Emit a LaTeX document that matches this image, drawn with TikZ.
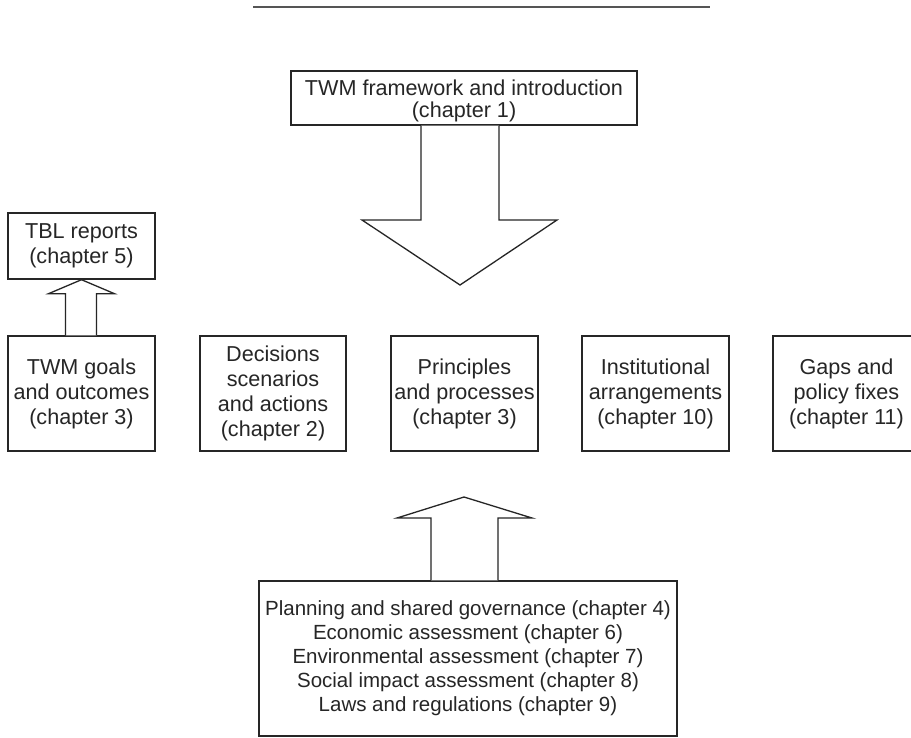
\documentclass[tikz,border=0pt]{standalone}
\usepackage{fontspec}
\setmainfont{Liberation Sans}
\usetikzlibrary{calc}
\definecolor{ink}{HTML}{262626}
\definecolor{rule}{HTML}{555555}
\tikzset{
  box/.style={draw=ink, line width=1.4pt, fill=white, inner sep=0pt,
    text=ink, align=center, font=\fontsize{21.6}{25}\selectfont},
  boxtext/.style={inner sep=0pt, text=ink, align=center,
    font=\fontsize{21.6}{22}\selectfont},
  blockarrow/.style={draw=ink, line width=1.3pt, fill=white, line join=miter},
}
\begin{document}
\begin{tikzpicture}[x=1pt, y=-1pt]
  \useasboundingbox[fill=white] (0,0) rectangle (911,737);
  % rule across the top
  \draw[rule, line width=2.2pt] (253,7) -- (710,7);

  % boxes
  \node[box, minimum width=346pt, minimum height=54pt] (intro) at (464,98) {};
  \node[boxtext] (introtext) at ($(intro.center)+(0,3)$)
    {TWM framework and introduction\\(chapter 1)};
  \node[box, minimum width=147pt, minimum height=66pt] (tbl) at (81.5,246)
    {TBL reports\\(chapter 5)};
  \node[box, minimum width=147pt, minimum height=115pt] (goals) at (81.5,393.5)
    {TWM goals\\and outcomes\\(chapter 3)};
  \node[box, minimum width=146pt, minimum height=115pt] (dec) at (273,393.5)
    {Decisions\\scenarios\\and actions\\(chapter 2)};
  \node[box, minimum width=147pt, minimum height=115pt] (prin) at (464.5,393.5)
    {Principles\\and processes\\(chapter 3)};
  \node[box, minimum width=147pt, minimum height=115pt] (inst) at (655.5,393.5)
    {Institutional\\arrangements\\(chapter 10)};
  \node[box, minimum width=147pt, minimum height=115pt] (gaps) at (846.5,393.5)
    {Gaps and\\policy fixes\\(chapter 11)};
  \node[box, minimum width=418pt, minimum height=155pt,
        font=\fontsize{20.5}{24}\selectfont] (tools) at (468,658.5)
    {Planning and shared governance (chapter 4)\\
     Economic assessment (chapter 6)\\
     Environmental assessment (chapter 7)\\
     Social impact assessment (chapter 8)\\
     Laws and regulations (chapter 9)};

  % free tips of the two central block arrows
  \coordinate (downtip) at (460,285);
  \coordinate (uptip) at (464,497);

  % block arrow: introduction down towards the middle row
  \draw[blockarrow]
    ($(downtip|-intro.south)+(-39,0)$) -- ($(downtip)+(-39,-65)$) -- ($(downtip)+(-98,-65)$)
    -- (downtip) -- ($(downtip)+(97,-65)$) -- ($(downtip)+(39,-65)$)
    -- ($(downtip|-intro.south)+(39,0)$);

  % block arrow: analysis tools up towards the middle row
  \draw[blockarrow]
    ($(uptip|-tools.north)+(-33,0)$) -- ($(uptip)+(-33,21)$) -- ($(uptip)+(-67,21)$)
    -- (uptip) -- ($(uptip)+(68,21)$) -- ($(uptip)+(34,21)$)
    -- ($(uptip|-tools.north)+(34,0)$);

  % block arrow: goals up to reports
  \draw[blockarrow]
    ($(tbl.south|-goals.north)+(-16,0)$) -- ($(tbl.south)+(-16,14)$) -- ($(tbl.south)+(-33,14)$)
    -- (tbl.south) -- ($(tbl.south)+(33,14)$) -- ($(tbl.south)+(15,14)$)
    -- ($(tbl.south|-goals.north)+(15,0)$);
\end{tikzpicture}
\end{document}
